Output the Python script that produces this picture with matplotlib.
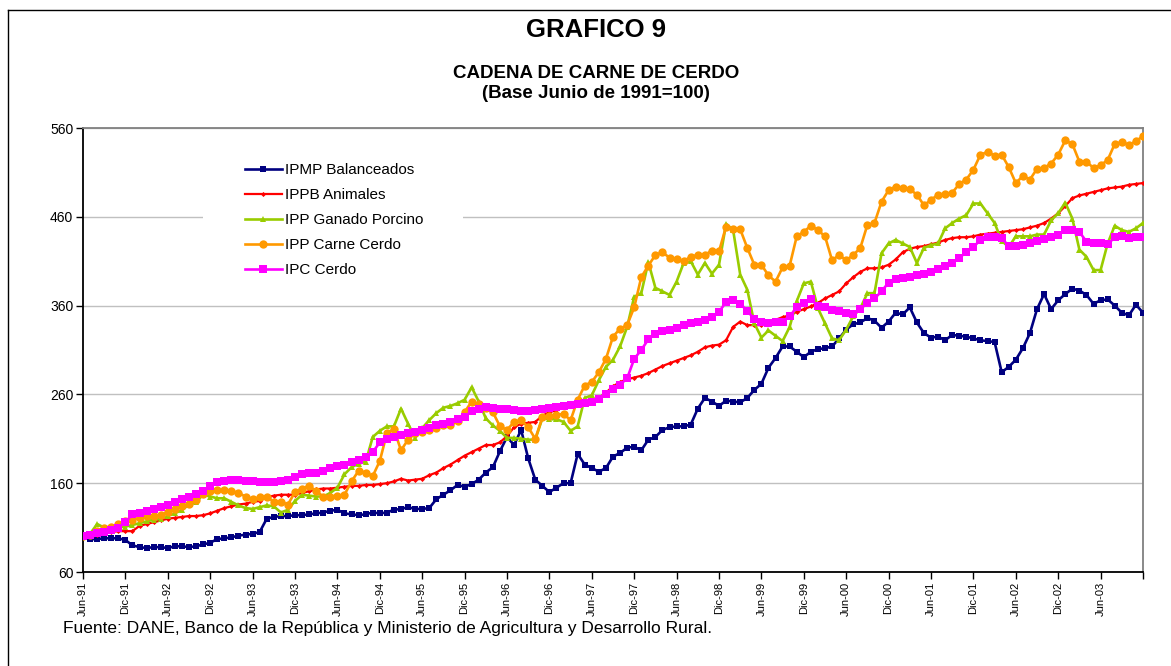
import matplotlib.pyplot as plt
from matplotlib.lines import Line2D
from matplotlib.patches import Rectangle
import numpy as np

plt.rcParams['font.family'] = ['Liberation Sans', 'DejaVu Sans']

# etiquetas semestrales del eje x (cada 6 meses desde Jun-91)
etiquetas = ['Jun-91', 'Dic-91', 'Jun-92', 'Dic-92', 'Jun-93', 'Dic-93', 'Jun-94',
             'Dic-94', 'Jun-95', 'Dic-95', 'Jun-96', 'Dic-96', 'Jun-97', 'Dic-97',
             'Jun-98', 'Dic-98', 'Jun-99', 'Dic-99', 'Jun-00', 'Dic-00', 'Jun-01',
             'Dic-01', 'Jun-02', 'Dic-02', 'Jun-03']

# series mensuales Jun-91 .. Dic-03 (base Junio 1991 = 100)
ipmp_balanceados = [
    100, 97, 97, 98, 98, 98, 96, 90, 88, 87,
    88, 88, 87, 89, 89, 88, 89, 91, 93, 97,
    98, 99, 101, 102, 103, 105, 120, 122, 123, 123,
    124, 124, 125, 126, 127, 129, 130, 126, 125, 124,
    125, 127, 126, 127, 130, 131, 133, 131, 131, 132,
    142, 147, 152, 158, 156, 159, 164, 172, 178, 196,
    212, 203, 220, 188, 164, 157, 150, 155, 160, 160,
    193, 181, 177, 173, 177, 190, 194, 200, 201, 197,
    209, 212, 220, 223, 224, 224, 226, 244, 256, 252,
    247, 253, 252, 251, 256, 265, 272, 290, 301, 314,
    314, 308, 302, 308, 311, 312, 314, 323, 333, 339,
    341, 346, 343, 335, 342, 352, 350, 358, 341, 329,
    324, 325, 321, 327, 326, 325, 323, 321, 320, 319,
    285, 291, 299, 312, 329, 356, 373, 356, 366, 373,
    379, 377, 372, 362, 366, 367, 360, 352, 349, 361,
    352]

ippb_animales = [
    100, 101, 102, 104, 105, 106, 106, 106, 112, 114,
    116, 118, 120, 121, 122, 123, 123, 124, 126, 129,
    132, 134, 136, 137, 139, 140, 144, 146, 147, 147,
    147, 149, 151, 153, 154, 154, 155, 156, 157, 157,
    158, 158, 159, 160, 162, 165, 163, 164, 165, 169,
    172, 177, 181, 186, 191, 195, 199, 203, 203, 206,
    213, 223, 227, 228, 229, 236, 240, 242, 246, 247,
    248, 250, 252, 256, 262, 269, 274, 277, 279, 281,
    284, 288, 292, 295, 298, 301, 304, 308, 313, 315,
    316, 321, 336, 342, 338, 338, 338, 340, 344, 347,
    349, 353, 356, 359, 363, 368, 372, 376, 385, 392,
    398, 402, 402, 403, 406, 412, 420, 424, 426, 427,
    429, 431, 434, 436, 437, 437, 438, 440, 441, 442,
    443, 444, 445, 446, 448, 450, 453, 458, 464, 472,
    481, 484, 486, 488, 490, 492, 493, 494, 496, 497,
    498]

ipp_ganado_porcino = [
    100, 103, 114, 110, 110, 111, 111, 113, 115, 117,
    119, 120, 123, 126, 130, 136, 139, 147, 145, 143,
    143, 139, 135, 132, 131, 133, 135, 134, 127, 130,
    140, 147, 146, 145, 145, 149, 155, 170, 178, 182,
    184, 212, 219, 224, 224, 244, 227, 211, 222, 231,
    239, 245, 247, 250, 254, 268, 252, 233, 225, 219,
    211, 211, 210, 209, 209, 233, 232, 232, 229, 219,
    224, 256, 259, 276, 291, 299, 314, 336, 370, 374,
    409, 380, 376, 372, 387, 408, 410, 395, 408, 396,
    406, 452, 445, 395, 378, 340, 324, 332, 326, 320,
    336, 365, 385, 387, 357, 340, 323, 321, 333, 348,
    357, 374, 374, 419, 430, 434, 430, 426, 408, 425,
    428, 430, 447, 453, 458, 462, 475, 475, 464, 453,
    433, 426, 438, 438, 438, 440, 440, 456, 464, 476,
    458, 423, 415, 400, 400, 430, 450, 445, 443, 447,
    453]

ipp_carne_cerdo = [
    100, 102, 106, 109, 111, 114, 117, 119, 121, 123,
    123, 124, 128, 131, 134, 137, 141, 148, 151, 152,
    152, 151, 149, 145, 142, 144, 145, 139, 139, 136,
    150, 154, 157, 151, 145, 145, 146, 147, 162, 174,
    172, 168, 185, 216, 221, 197, 209, 216, 218, 220,
    222, 225, 225, 230, 240, 252, 249, 245, 240, 224,
    220, 229, 231, 223, 210, 234, 236, 237, 238, 231,
    254, 270, 274, 285, 300, 325, 334, 338, 358, 392,
    405, 417, 420, 414, 412, 410, 415, 417, 417, 422,
    421, 449, 446, 446, 425, 406, 406, 394, 387, 403,
    405, 438, 443, 450, 445, 438, 411, 417, 411, 417,
    425, 451, 453, 477, 490, 494, 492, 491, 485, 473,
    479, 485, 486, 487, 497, 502, 513, 530, 533, 529,
    530, 516, 498, 506, 502, 514, 515, 520, 530, 546,
    542, 522, 522, 515, 518, 524, 542, 544, 541, 545,
    551]

ipc_cerdo = [
    100, 102, 104, 105, 107, 110, 116, 125, 127, 129,
    131, 133, 136, 139, 142, 145, 148, 151, 157, 161,
    163, 164, 164, 163, 162, 161, 161, 161, 162, 164,
    167, 170, 171, 172, 174, 177, 179, 181, 184, 186,
    189, 195, 206, 210, 212, 214, 216, 218, 220, 222,
    225, 227, 229, 232, 235, 241, 244, 246, 245, 244,
    243, 242, 241, 241, 242, 243, 245, 246, 247, 248,
    249, 250, 252, 255, 261, 266, 271, 278, 300, 310,
    322, 328, 331, 333, 335, 338, 340, 342, 344, 347,
    353, 364, 366, 362, 354, 345, 341, 340, 341, 342,
    348, 358, 363, 367, 360, 358, 355, 354, 352, 350,
    356, 363, 368, 376, 386, 390, 391, 392, 394, 396,
    398, 401, 405, 408, 414, 420, 426, 434, 437, 437,
    436, 427, 427, 428, 431, 433, 435, 437, 440, 445,
    445, 443, 432, 431, 431, 429, 437, 438, 436, 437,
    437]

series = [
    ('IPMP Balanceados', ipmp_balanceados, '#000080', 's', 4.0, 1.9),
    ('IPPB Animales', ippb_animales, '#FF0000', 'D', 2.6, 1.6),
    ('IPP Ganado Porcino', ipp_ganado_porcino, '#99CC00', '^', 5.0, 1.9),
    ('IPP Carne Cerdo', ipp_carne_cerdo, '#FF9900', 'o', 6.0, 1.9),
    ('IPC Cerdo', ipc_cerdo, '#FF00FF', 's', 5.5, 1.9),
]

W, H = 1171, 666
fig = plt.figure(figsize=(W / 100, H / 100), dpi=100)

# marco exterior (solo lados visibles: izquierdo y superior)
fig.add_artist(Line2D([8 / W, 8 / W], [0, 1 - 10 / H], transform=fig.transFigure,
                      color='black', lw=1.0))
fig.add_artist(Line2D([8 / W, 1], [1 - 10 / H, 1 - 10 / H], transform=fig.transFigure,
                      color='black', lw=1.0))

ax = fig.add_axes([83 / W, 94 / H, 1060 / W, 444 / H])

handles = []
for nombre, valores, color, marcador, ms, lw in series:
    x = np.arange(len(valores))
    h, = ax.plot(x, valores, color=color, marker=marcador, markersize=ms,
                 linewidth=lw, markeredgewidth=0, label=nombre, zorder=3)
    handles.append(h)

ax.set_xlim(0, 150)
ax.set_ylim(60, 560)
ax.set_yticks([60, 160, 260, 360, 460, 560])
ax.yaxis.grid(True, color='#c0c0c0', linewidth=1.0)
ax.set_axisbelow(True)

ax.set_xticks(list(range(0, 151, 6)))
ax.set_xticklabels(etiquetas + [''], rotation=90, fontsize=8)
ax.tick_params(axis='x', length=5, width=1, direction='out', pad=2)
ax.tick_params(axis='y', length=5, width=1, direction='out', labelsize=10, pad=2)

for lado in ['left', 'bottom']:
    ax.spines[lado].set_color('black')
    ax.spines[lado].set_linewidth(1.3)
for lado in ['top', 'right']:
    ax.spines[lado].set_color('#808080')
    ax.spines[lado].set_linewidth(1.3)

# caja blanca de la leyenda que corta la rejilla
ax.add_patch(Rectangle(((203 - 83) / 1060, (572 - 292) / 444), 260 / 1060, 140 / 444,
                       transform=ax.transAxes, facecolor='white', edgecolor='none',
                       zorder=1))

ax.legend(handles=handles, loc='upper left',
          bbox_to_anchor=((245 - 83) / 1060, (572 - 163) / 444),
          fontsize=11, frameon=False, handlelength=2.4, handletextpad=0.25,
          labelspacing=0.72, borderpad=0, borderaxespad=0)

fig.text(596 / W, 1 - 30 / H, 'GRAFICO 9', ha='center', va='center',
         fontsize=18.5, fontweight='bold')
fig.text(596 / W, 1 - 73 / H, 'CADENA DE CARNE DE CERDO', ha='center', va='center',
         fontsize=13.5, fontweight='bold')
fig.text(596 / W, 1 - 93 / H, '(Base Junio de 1991=100)', ha='center', va='center',
         fontsize=13.5, fontweight='bold')
fig.text(63 / W, 1 - 628 / H,
         'Fuente: DANE, Banco de la República y Ministerio de Agricultura y Desarrollo Rural.',
         ha='left', va='center', fontsize=12.5)

fig.savefig('out.png', dpi=100)
